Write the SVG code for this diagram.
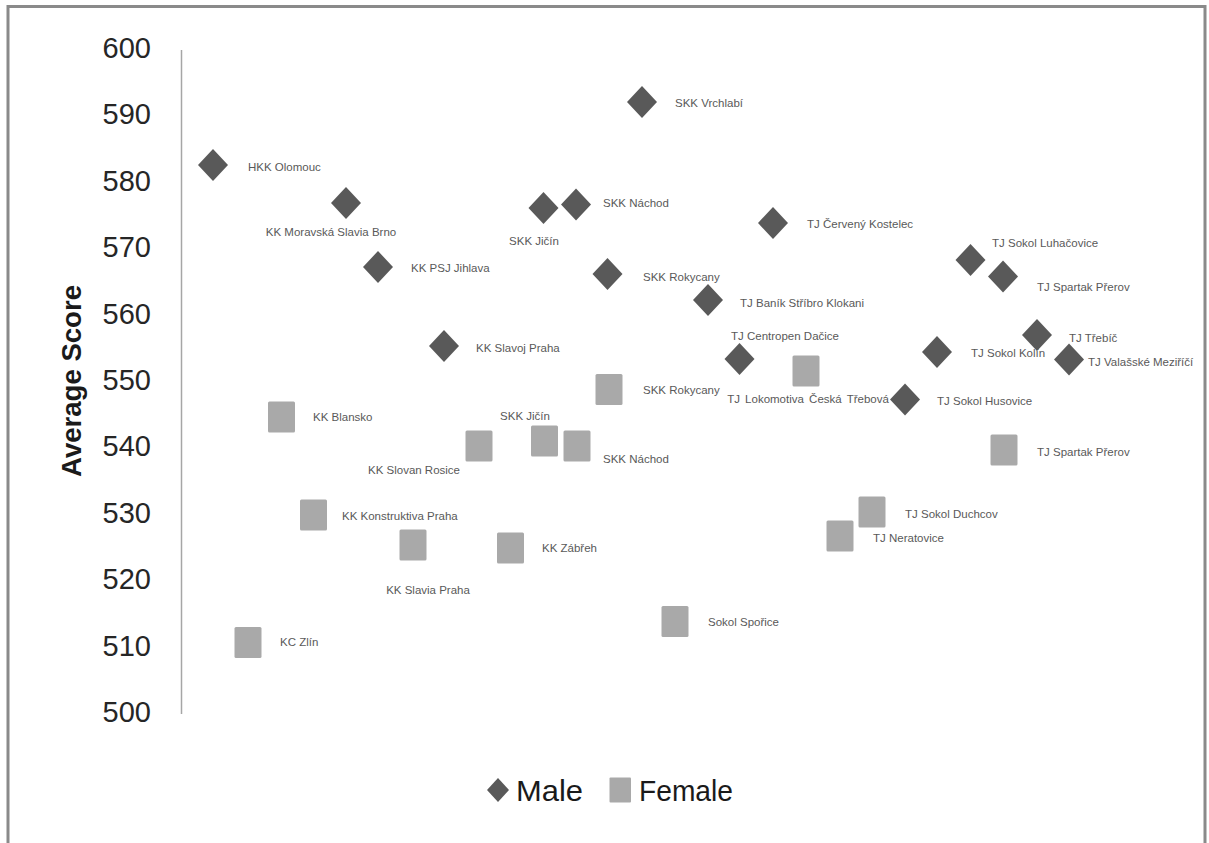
<svg xmlns="http://www.w3.org/2000/svg" width="1209" height="843" viewBox="0 0 1209 843">
<style>
.tick{font-family:"Liberation Sans",Arial,sans-serif;font-size:29px;fill:#262626;text-anchor:end}
.lbl{font-family:"Liberation Sans",Arial,sans-serif;font-size:11.5px;fill:#595959}
.mid{text-anchor:middle}
.m{fill:#595959}
.f{fill:#a9a9a9}
.leg{font-family:"Liberation Sans",Arial,sans-serif;font-size:30px;fill:#1a1a1a}
</style>
<defs>
<polygon id="dia" points="0,-16 15,0 0,16 -15,0"/>
<rect id="sq" x="-13.5" y="-15.5" width="27" height="31" rx="1.5"/>
</defs>
<rect width="1209" height="843" fill="#ffffff"/>
<path d="M8,843 V6.5 H1205 V843" fill="none" stroke="#8a8a8a" stroke-width="3"/>
<g id="axis">
<line x1="181.5" y1="50" x2="181.5" y2="714" stroke="#a6a6a6" stroke-width="1.5"/>
<text class="tick" x="151" y="58">600</text>
<text class="tick" x="151" y="124.4">590</text>
<text class="tick" x="151" y="190.8">580</text>
<text class="tick" x="151" y="257.2">570</text>
<text class="tick" x="151" y="323.6">560</text>
<text class="tick" x="151" y="390">550</text>
<text class="tick" x="151" y="456.4">540</text>
<text class="tick" x="151" y="522.8">530</text>
<text class="tick" x="151" y="589.2">520</text>
<text class="tick" x="151" y="655.6">510</text>
<text class="tick" x="151" y="722">500</text>
<text x="0" y="0" transform="translate(81,381) rotate(-90)" text-anchor="middle" font-family="'Liberation Sans',Arial,sans-serif" font-weight="bold" font-size="27" fill="#1a1a1a" textLength="192" lengthAdjust="spacingAndGlyphs">Average Score</text>
</g>
<g id="connectors"></g>
<g id="male-hkk-olomouc"><use href="#dia" class="m" x="213" y="165"/><text class="lbl" x="248" y="171">HKK Olomouc</text></g>
<g id="male-kk-moravska-slavia-brno"><use href="#dia" class="m" x="346" y="203"/><text class="lbl mid" x="331" y="236">KK Moravská Slavia Brno</text></g>
<g id="male-kk-psj-jihlava"><use href="#dia" class="m" x="378" y="267"/><text class="lbl" x="411" y="272">KK PSJ Jihlava</text></g>
<g id="male-kk-slavoj-praha"><use href="#dia" class="m" x="444" y="346"/><text class="lbl" x="476" y="352">KK Slavoj Praha</text></g>
<g id="male-skk-vrchlabi"><use href="#dia" class="m" x="642" y="102"/><text class="lbl" x="675" y="107">SKK Vrchlabí</text></g>
<g id="male-skk-jicin"><use href="#dia" class="m" x="543.5" y="208"/><text class="lbl mid" x="534" y="245">SKK Jičín</text></g>
<g id="male-skk-nachod"><use href="#dia" class="m" x="576" y="204.5"/><text class="lbl" x="603" y="207">SKK Náchod</text></g>
<g id="male-skk-rokycany"><use href="#dia" class="m" x="607.5" y="274"/><text class="lbl" x="643" y="281">SKK Rokycany</text></g>
<g id="male-tj-cerveny-kostelec"><use href="#dia" class="m" x="773" y="223"/><text class="lbl" x="807" y="228">TJ Červený Kostelec</text></g>
<g id="male-tj-banik-stribro-klokani"><use href="#dia" class="m" x="708" y="300"/><text class="lbl" x="740" y="307">TJ Baník Stříbro Klokani</text></g>
<g id="male-tj-centropen-dacice"><use href="#dia" class="m" x="739.5" y="359"/><text class="lbl mid" x="785" y="340">TJ Centropen Dačice</text></g>
<g id="male-tj-sokol-luhacovice"><use href="#dia" class="m" x="970.5" y="260"/><text class="lbl" x="992" y="247">TJ Sokol Luhačovice</text></g>
<g id="male-tj-spartak-prerov"><use href="#dia" class="m" x="1003" y="276.5"/><text class="lbl" x="1037" y="291">TJ Spartak Přerov</text></g>
<g id="male-tj-sokol-kolin"><use href="#dia" class="m" x="937" y="352"/><text class="lbl" x="971" y="357">TJ Sokol Kolín</text></g>
<g id="male-tj-trebic"><use href="#dia" class="m" x="1037" y="335"/><text class="lbl" x="1069" y="342">TJ Třebíč</text></g>
<g id="male-tj-valasske-mezirici"><use href="#dia" class="m" x="1069" y="359.5"/><text class="lbl" x="1088" y="366">TJ Valašské Meziříčí</text></g>
<g id="male-tj-sokol-husovice"><use href="#dia" class="m" x="905" y="399.5"/><text class="lbl" x="937" y="405">TJ Sokol Husovice</text></g>
<g id="female-kk-blansko"><use href="#sq" class="f" x="281.5" y="417"/><text class="lbl" x="313" y="421">KK Blansko</text></g>
<g id="female-kk-slovan-rosice"><use href="#sq" class="f" x="479" y="446"/><text class="lbl mid" x="414" y="474">KK Slovan Rosice</text></g>
<g id="female-kk-konstruktiva-praha"><use href="#sq" class="f" x="313.5" y="515"/><text class="lbl" x="342" y="520">KK Konstruktiva Praha</text></g>
<g id="female-skk-rokycany"><use href="#sq" class="f" x="609" y="389.5"/><text class="lbl" x="643" y="394">SKK Rokycany</text></g>
<g id="female-skk-jicin"><use href="#sq" class="f" x="544.5" y="441"/><text class="lbl mid" x="525" y="420">SKK Jičín</text></g>
<g id="female-skk-nachod"><use href="#sq" class="f" x="577" y="446"/><text class="lbl" x="603" y="463">SKK Náchod</text></g>
<g id="female-tj-lokomotiva-ceska-trebova"><use href="#sq" class="f" x="806" y="371"/><text class="lbl mid" x="808" y="403" word-spacing="2">TJ Lokomotiva Česká Třebová</text></g>
<g id="female-tj-spartak-prerov"><use href="#sq" class="f" x="1004" y="450"/><text class="lbl" x="1037" y="456">TJ Spartak Přerov</text></g>
<g id="female-tj-sokol-duchcov"><use href="#sq" class="f" x="872" y="512"/><text class="lbl" x="905" y="518">TJ Sokol Duchcov</text></g>
<g id="female-tj-neratovice"><use href="#sq" class="f" x="840" y="536"/><text class="lbl" x="873" y="542">TJ Neratovice</text></g>
<g id="female-kk-slavia-praha"><use href="#sq" class="f" x="413" y="545"/><text class="lbl mid" x="428" y="594">KK Slavia Praha</text></g>
<g id="female-kk-zabreh"><use href="#sq" class="f" x="510.5" y="548"/><text class="lbl" x="542" y="552">KK Zábřeh</text></g>
<g id="female-kc-zlin"><use href="#sq" class="f" x="248" y="642.5"/><text class="lbl" x="280" y="646">KC Zlín</text></g>
<g id="female-sokol-sporice"><use href="#sq" class="f" x="675" y="621.5"/><text class="lbl" x="708" y="626">Sokol Spořice</text></g>
<g id="legend">
<polygon class="m" points="498,778 509,790 498,802 487,790"/>
<text class="leg" x="516" y="801" textLength="67" lengthAdjust="spacingAndGlyphs">Male</text>
<rect class="f" x="609.5" y="777.5" width="21.5" height="25" rx="1"/>
<text class="leg" x="639" y="801" textLength="94" lengthAdjust="spacingAndGlyphs">Female</text>
</g>
</svg>
